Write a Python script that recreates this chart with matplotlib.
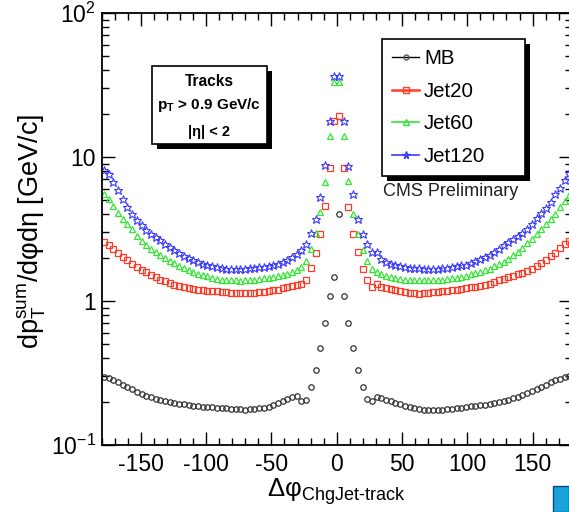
import numpy as np
import matplotlib
matplotlib.use('Agg')
import matplotlib.pyplot as plt
from matplotlib.ticker import FixedLocator, MultipleLocator, FuncFormatter, NullFormatter
from matplotlib.patches import Rectangle
from matplotlib.lines import Line2D

plt.rcParams['font.family'] = ['Liberation Sans', 'DejaVu Sans']
plt.rcParams['mathtext.fontset'] = 'custom'
plt.rcParams['mathtext.rm'] = 'Liberation Sans'
plt.rcParams['mathtext.it'] = 'Liberation Sans:italic'
plt.rcParams['mathtext.bf'] = 'Liberation Sans:bold'
plt.rcParams['axes.unicode_minus'] = False

# ---------------- data ----------------
n_bins = 100
bin_edges = np.linspace(-180.0, 180.0, n_bins + 1)
delta_phi = 0.5 * (bin_edges[:-1] + bin_edges[1:])

mb = [0.297, 0.290, 0.281, 0.272, 0.263, 0.253, 0.243, 0.235, 0.227, 0.220,
      0.214, 0.209, 0.205, 0.202, 0.199, 0.196, 0.194, 0.192, 0.190, 0.188,
      0.187, 0.185, 0.184, 0.183, 0.182, 0.181, 0.180, 0.179, 0.178, 0.177,
      0.176, 0.178, 0.179, 0.180, 0.182, 0.185, 0.189, 0.195, 0.201, 0.208,
      0.214, 0.218, 0.203, 0.207, 0.253, 0.334, 0.475, 0.708, 1.08, 1.46,
      4.0, 1.08, 0.708, 0.475, 0.334, 0.253, 0.210, 0.202, 0.215, 0.212,
      0.206, 0.202, 0.197, 0.192, 0.188, 0.184, 0.181, 0.178, 0.176, 0.174,
      0.175, 0.175, 0.176, 0.177, 0.178, 0.180, 0.182, 0.184, 0.186, 0.188,
      0.189, 0.191, 0.194, 0.197, 0.200, 0.203, 0.207, 0.211, 0.215, 0.221,
      0.228, 0.236, 0.244, 0.252, 0.262, 0.272, 0.281, 0.289, 0.296, 0.302]

jet20 = [2.57, 2.45, 2.31, 2.16, 2.03, 1.92, 1.82, 1.73, 1.65, 1.58,
         1.51, 1.46, 1.41, 1.37, 1.33, 1.30, 1.27, 1.25, 1.23, 1.21,
         1.20, 1.19, 1.18, 1.17, 1.17, 1.16, 1.15, 1.14, 1.14, 1.14,
         1.13, 1.14, 1.13, 1.15, 1.16, 1.17, 1.19, 1.20, 1.23, 1.25,
         1.27, 1.29, 1.31, 1.41, 1.70, 2.15, 2.94, 4.54, 8.4, 17.8,
         19.2, 8.4, 4.5, 2.92, 2.19, 1.67, 1.40, 1.25, 1.31, 1.25,
         1.23, 1.21, 1.19, 1.17, 1.155, 1.14, 1.13, 1.125, 1.13, 1.14,
         1.155, 1.16, 1.17, 1.18, 1.19, 1.20, 1.22, 1.24, 1.25, 1.26,
         1.28, 1.30, 1.32, 1.35, 1.39, 1.42, 1.46, 1.50, 1.53, 1.57,
         1.62, 1.68, 1.75, 1.83, 1.93, 2.04, 2.17, 2.33, 2.48, 2.60]

jet60 = [5.57, 5.13, 4.54, 4.10, 3.70, 3.40, 3.15, 2.85, 2.60, 2.45,
         2.28, 2.18, 2.08, 1.99, 1.91, 1.83, 1.76, 1.70, 1.65, 1.60,
         1.55, 1.51, 1.48, 1.45, 1.43, 1.41, 1.40, 1.39, 1.39, 1.38,
         1.39, 1.39, 1.41, 1.42, 1.44, 1.45, 1.47, 1.49, 1.51, 1.54,
         1.58, 1.63, 1.72, 1.90, 2.30, 2.95, 4.15, 6.7, 14.1, 33.2,
         33.2, 14.1, 6.8, 4.04, 2.94, 2.25, 1.90, 1.68, 1.60, 1.54,
         1.50, 1.47, 1.44, 1.42, 1.41, 1.40, 1.39, 1.39, 1.39, 1.39,
         1.40, 1.40, 1.41, 1.42, 1.44, 1.45, 1.47, 1.50, 1.53, 1.56,
         1.59, 1.63, 1.68, 1.74, 1.80, 1.88, 1.97, 2.08, 2.20, 2.34,
         2.52, 2.70, 2.90, 3.15, 3.40, 3.70, 4.05, 4.50, 4.95, 5.45]

jet120 = [8.17, 7.67, 6.7, 5.9, 5.13, 4.5, 4.04, 3.63, 3.36, 3.10,
          2.92, 2.78, 2.64, 2.50, 2.37, 2.25, 2.14, 2.06, 1.98, 1.92,
          1.86, 1.82, 1.78, 1.74, 1.71, 1.69, 1.68, 1.67, 1.66, 1.67,
          1.68, 1.70, 1.69, 1.71, 1.73, 1.74, 1.77, 1.81, 1.88, 1.94,
          2.02, 2.12, 2.25, 2.50, 2.97, 3.73, 5.27, 8.76, 17.9, 36.8,
          36.8, 17.8, 8.6, 5.5, 3.73, 2.94, 2.50, 2.19, 2.19, 1.97,
          1.88, 1.80, 1.77, 1.74, 1.72, 1.70, 1.70, 1.69, 1.68, 1.68,
          1.67, 1.68, 1.69, 1.70, 1.72, 1.75, 1.77, 1.78, 1.84, 1.89,
          1.97, 2.03, 2.10, 2.20, 2.30, 2.43, 2.56, 2.71, 2.85, 2.98,
          3.15, 3.45, 3.80, 4.10, 4.45, 4.85, 5.50, 6.05, 6.90, 7.80]

series_labels = ['MB', 'Jet20', 'Jet60', 'Jet120']
x_ticks = [-150, -100, -50, 0, 50, 100, 150]
y_ticks = [0.1, 1, 10, 100]
y_tick_labels = [r'$\mathregular{10^{-1}}$', '1', '10', r'$\mathregular{10^{2}}$']

# ---------------- style ----------------
c_mb = '#333333'
c_20 = '#ff3c28'
c_60 = '#33e633'
c_120 = '#3c3cff'

fig = plt.figure(figsize=(5.69, 5.12), dpi=100)
ax = fig.add_axes([101.6 / 569, 67 / 512, 470.2 / 569, 432 / 512])

ax.plot(delta_phi, mb, ls='none', marker='o', ms=3.9, mfc='none', mec=c_mb, mew=0.9)
ax.plot(delta_phi, jet20, ls='none', marker='s', ms=4.4, mfc='none', mec=c_20, mew=0.9)
ax.plot(delta_phi, jet60, ls='none', marker='^', ms=5.0, mfc='none', mec=c_60, mew=0.9)
ax.plot(delta_phi, jet120, ls='none', marker='*', ms=6.3, mfc='none', mec=c_120, mew=0.8)

ax.set_yscale('log')
ax.set_xlim(-180, 180)
ax.set_ylim(0.1, 100)

ax.xaxis.set_major_locator(FixedLocator(x_ticks))
ax.xaxis.set_minor_locator(MultipleLocator(10))
ax.yaxis.set_major_locator(FixedLocator(y_ticks))
ax.yaxis.set_major_formatter(FuncFormatter(lambda v, p: y_tick_labels[y_ticks.index(min(y_ticks, key=lambda t: abs(np.log10(t) - np.log10(v))))]))
minors = [m * 10.0 ** e for e in (-1, 0, 1) for m in range(2, 10)]
ax.yaxis.set_minor_locator(FixedLocator(minors))
ax.yaxis.set_minor_formatter(NullFormatter())

ax.tick_params(which='both', direction='in', top=True, right=True, width=1.0, colors='black')
ax.tick_params(which='major', length=9.7, labelsize=16.5)
ax.tick_params(which='minor', length=4.7)
ax.tick_params(axis='x', which='major', pad=6)
ax.tick_params(axis='y', which='major', pad=4)
for s in ax.spines.values():
    s.set_linewidth(1.3)

ax.set_xlabel('$\\mathregular{Δφ_{ChgJet\u2010track}}$', fontsize=18.5, labelpad=0)
ax.set_ylabel(r'$\mathregular{dp_{T}^{sum}}$/dφdη [GeV/c]', fontsize=19.5)
ax.yaxis.set_label_coords((48 - 101.6) / 470.2, 0.495)

# legend
handles = [
    Line2D([], [], color='black', lw=1, marker='o', ms=3.5, mfc='none', mec='#555555'),
    Line2D([], [], color=c_20, lw=1.8, marker='s', ms=4, mfc='none', mec=c_20),
    Line2D([], [], color=c_60, lw=1.2, marker='^', ms=4.5, mfc='none', mec=c_60),
    Line2D([], [], color=c_120, lw=1.2, marker='*', ms=5.5, mfc='none', mec=c_120),
]
leg = ax.legend(handles, series_labels, loc='upper left',
                bbox_to_anchor=((382 - 101.6) / 470.2, 0.5, 143 / 470.2, (445 - 39) / 432 - 0.5),
                mode='expand', borderaxespad=0, fontsize=14.8, labelspacing=0.66,
                handlelength=1.3, handletextpad=0.25, borderpad=0.5,
                fancybox=False, framealpha=1, edgecolor='black')
leg.get_frame().set_linewidth(1.2)
leg.set_zorder(6)

fig.canvas.draw()
bb = leg.get_window_extent().transformed(ax.transAxes.inverted())
dx, dy = 5 / 470.2, 5 / 432
ax.add_patch(Rectangle((bb.x0 + dx, bb.y0 - dy), bb.width, bb.height, transform=ax.transAxes,
                       facecolor='black', edgecolor='none', zorder=5.5, clip_on=False))

# Tracks box
bx0, bx1 = (152.3 - 101.6) / 470.2, (266.7 - 101.6) / 470.2
by1, by0 = (445 - 66) / 432, (445 - 144) / 432
ax.add_patch(Rectangle((bx0 + dx, by0 - dy), bx1 - bx0, by1 - by0, transform=ax.transAxes,
                       facecolor='black', edgecolor='none', zorder=5.5))
ax.add_patch(Rectangle((bx0, by0), bx1 - bx0, by1 - by0, transform=ax.transAxes,
                       facecolor='white', edgecolor='black', lw=1.2, zorder=5.6))
cx = (209.5 - 101.6) / 470.2
ax.text(cx, (445 - 82) / 432, 'Tracks', transform=ax.transAxes, ha='center', va='center',
        fontsize=11.2, fontweight='bold', zorder=6)
ax.text(cx, (445 - 105) / 432, r'$\mathbf{p_{T}}$ > 0.9 GeV/c', transform=ax.transAxes,
        ha='center', va='center', fontsize=11, fontweight='bold', zorder=6)
ax.text(cx, (445 - 132) / 432, '|η| < 2', transform=ax.transAxes, ha='center', va='center',
        fontsize=10.5, fontweight='bold', zorder=6)

ax.text((383 - 101.6) / 470.2, (445 - 192) / 432, 'CMS Preliminary', transform=ax.transAxes,
        ha='left', va='center', fontsize=13, color='#222222', zorder=6)

# small logo corner
fig.patches.append(Rectangle((553 / 569, 0), 16 / 569, 26 / 512, transform=fig.transFigure,
                             facecolor='#19a3d9', edgecolor='#0a4a80', lw=1, figure=fig))

fig.savefig('out.png', dpi=100)
